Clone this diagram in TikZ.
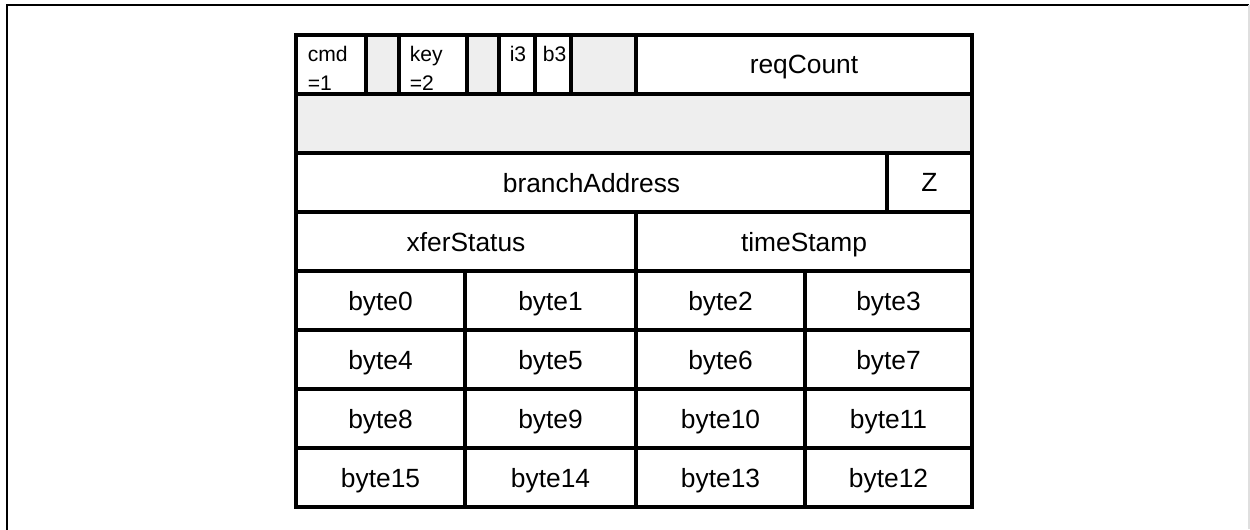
\documentclass[tikz,border=0pt]{standalone}
\usepackage{fontspec}
\setmainfont{Liberation Sans}
\definecolor{cellgray}{HTML}{EEEEEE}
\begin{document}
\begin{tikzpicture}[x=0.02cm, y=-0.02cm,
    cell/.style={rectangle, draw, line width=1.8pt, minimum height=1.18cm,
                 inner sep=0pt, text depth=0pt, font=\fontsize{15}{18}\selectfont},
    gap/.style={cell, fill=cellgray},
    tag/.style={anchor=north west, align=left, inner sep=0pt,
                font=\fontsize{12}{17}\selectfont}
]
    \useasboundingbox (0,0) rectangle (1250,529);
    \draw[line width=1.4pt] (7,540) -- (7,5) -- (1249,5);
    \draw[gray!25, line width=0.6pt] (1249,5) -- (1249,529);

    % first word: flags
    \node[cell, minimum width=1.40cm] (cmd) at (331, 64.5) {};
    \node[gap,  minimum width=0.66cm] (g1) at (382.5, 64.5) {};
    \node[cell, minimum width=1.36cm] (key) at (433, 64.5) {};
    \node[gap,  minimum width=0.64cm] (g2) at (483, 64.5) {};
    \node[cell, minimum width=0.72cm] (i3) at (517, 64.5) {};
    \node[cell, minimum width=0.72cm] (b3) at (553, 64.5) {};
    \node[gap,  minimum width=1.30cm] (g3) at (603.5, 64.5) {};
    \node[cell, minimum width=6.72cm] (req) at (804, 64.5) {reqCount};

    \node[tag] (cmdt) at ([shift={(13,12)}]cmd.north west) {cmd\\=1};
    \node[tag] (keyt) at ([shift={(12,12)}]key.north west) {key\\=2};
    \node[tag] (i3t) at ([shift={(12,12)}]i3.north west) {i3};
    \node[tag] (b3t) at ([shift={(9,12)}]b3.north west) {b3};

    % reserved word
    \node[gap, minimum width=13.52cm] (res) at (634, 123.5) {};

    % address and status
    \node[cell, minimum width=11.82cm] (addr) at (591.5, 182.5) {branchAddress};
    \node[cell, minimum width=1.70cm] (z) at (929.5, 182.5) {Z};
    \node[cell, minimum width=6.80cm] (xfer) at (466, 241.5) {xferStatus};
    \node[cell, minimum width=6.72cm] (ts) at (804, 241.5) {timeStamp};

    % data bytes
    \node[cell, minimum width=3.38cm] (b0) at (380.5, 300.5) {byte0};
    \node[cell, minimum width=3.42cm] (b1) at (550.5, 300.5) {byte1};
    \node[cell, minimum width=3.38cm] (b2) at (720.5, 300.5) {byte2};
    \node[cell, minimum width=3.34cm] (b3d) at (888.5, 300.5) {byte3};

    \node[cell, minimum width=3.38cm] (b4) at (380.5, 359.5) {byte4};
    \node[cell, minimum width=3.42cm] (b5) at (550.5, 359.5) {byte5};
    \node[cell, minimum width=3.38cm] (b6) at (720.5, 359.5) {byte6};
    \node[cell, minimum width=3.34cm] (b7) at (888.5, 359.5) {byte7};

    \node[cell, minimum width=3.38cm] (b8) at (380.5, 418.5) {byte8};
    \node[cell, minimum width=3.42cm] (b9) at (550.5, 418.5) {byte9};
    \node[cell, minimum width=3.38cm] (b10) at (720.5, 418.5) {byte10};
    \node[cell, minimum width=3.34cm] (b11) at (888.5, 418.5) {byte11};

    \node[cell, minimum width=3.38cm] (b15) at (380.5, 477.5) {byte15};
    \node[cell, minimum width=3.42cm] (b14) at (550.5, 477.5) {byte14};
    \node[cell, minimum width=3.38cm] (b13) at (720.5, 477.5) {byte13};
    \node[cell, minimum width=3.34cm] (b12) at (888.5, 477.5) {byte12};
\end{tikzpicture}
\end{document}
